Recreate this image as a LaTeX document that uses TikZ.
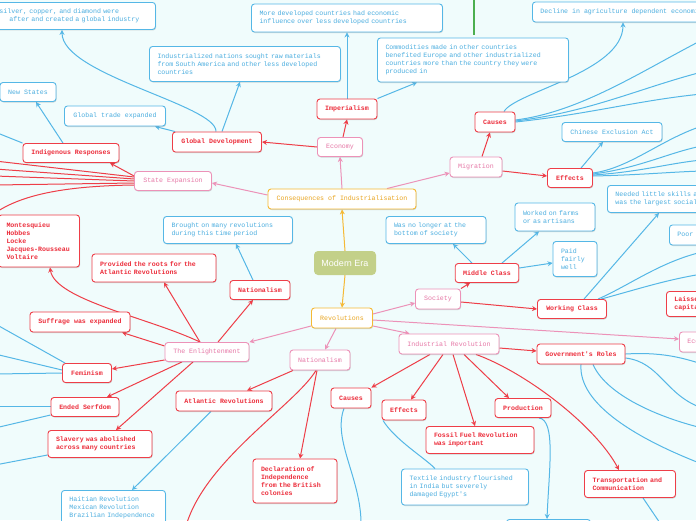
\documentclass[tikz,border=0pt]{standalone}
\usepackage{fontspec}
\newfontfamily\mono{Liberation Mono}
\newfontfamily\msans{Liberation Sans}
\usetikzlibrary{arrows.meta,shadows}
\definecolor{bg}{HTML}{F0FCFC}
\definecolor{redb}{HTML}{EE3E48}
\definecolor{redt}{HTML}{EC2C3A}
\definecolor{pinkb}{HTML}{EC92B8}
\definecolor{pinkt}{HTML}{E677A6}
\definecolor{blueb}{HTML}{55B7E6}
\definecolor{bluet}{HTML}{4AADDF}
\definecolor{orab}{HTML}{F5B935}
\definecolor{orat}{HTML}{E9A521}
\definecolor{meg}{HTML}{C3D089}
\definecolor{grn}{HTML}{4CAF50}
\pgfdeclarelayer{back}
\pgfdeclarelayer{edges}
\pgfsetlayers{back,edges,main}
\begin{document}
\begin{tikzpicture}[x=1pt,y=-1pt,line join=round,
 base/.style={draw, rounded corners=3pt, fill=white, line width=0.9pt,
   font=\mono\fontsize{6.6}{8}\selectfont, inner xsep=8pt, inner ysep=3pt, align=left,
   drop shadow={shadow xshift=0.6pt,shadow yshift=-1pt,opacity=0.22,fill=black!70}},
 rbox/.style={base, draw=redb, text=redt, font=\mono\bfseries\fontsize{6.6}{8}\selectfont},
 pbox/.style={base, draw=pinkb, text=pinkt},
 bbox/.style={base, draw=blueb, text=bluet},
 obox/.style={base, draw=orab, text=orat},
 tip/.style={-{Stealth[length=5pt,width=5pt]}},
 rl/.style={draw=redb, line width=1pt},
 pl/.style={draw=pinkb, line width=1pt},
 bl/.style={draw=blueb, line width=1pt},
 ol/.style={draw=orab, line width=1pt}]
\useasboundingbox (0,0) rectangle (696,520);
\begin{pgfonlayer}{back}
\fill[bg] (0,0) rectangle (696,520);
\end{pgfonlayer}
\clip (0,0) rectangle (696,520);

% ---- nodes ----
\node[fill=meg, rounded corners=4pt, text=white, font=\msans\fontsize{9}{10}\selectfont,
  minimum width=62pt, minimum height=24pt, inner sep=0pt] (me) at (345,263) {Modern Era};
\node[obox, minimum width=148pt, minimum height=20pt] (coi) at (342,199) {Consequences of Industrialisation};
\node[obox, minimum width=61pt, minimum height=20pt] (rev) at (342,318) {Revolutions};

\node[pbox, minimum width=45pt, minimum height=19pt] (eco) at (340,147) {Economy};
\node[pbox, minimum width=52pt, minimum height=20pt] (mig) at (476,167) {Migration};
\node[pbox, minimum width=77pt, minimum height=19pt] (se) at (173,181) {State Expansion};

\node[rbox, minimum width=60pt, minimum height=20pt] (imp) at (347,109) {Imperialism};
\node[rbox, minimum width=89pt, minimum height=20pt] (gd) at (217,142) {Global Development};
\node[rbox, minimum width=40pt, minimum height=20pt] (mcau) at (495,122) {Causes};
\node[rbox, minimum width=45pt, minimum height=19pt] (meff) at (570,178) {Effects};
\node[bbox, minimum width=100pt, minimum height=19pt] (cea) at (612,132) {Chinese Exclusion Act};
\node[bbox, anchor=west, minimum height=20pt] (dec) at (532,12) {Decline in agriculture dependent economies};
\node[bbox, text width=175pt, minimum height=28pt] (mdc) at (347,18) {More developed countries had economic\\influence over less developed countries};
\node[bbox, text width=175pt, minimum height=44pt] (com) at (473,60) {Commodities made in other countries\\benefited Europe and other industrialized\\countries more than the country they were\\produced in};
\node[bbox, text width=175pt, minimum height=35pt] (ind) at (245,64) {Industrialized nations sought raw materials\\from South America and other less developed\\countries};
\node[bbox, minimum width=101pt, minimum height=20pt] (gte) at (115,116) {Global trade expanded};
\node[bbox, anchor=north west, text width=148pt, minimum height=27pt] (sil) at (-9,2) {silver, copper, and diamond were\\\hspace*{10pt}after and created a global industry};
\node[bbox, minimum width=56pt, minimum height=19pt] (ns) at (28,92) {New States};
\node[rbox, minimum width=96pt, minimum height=19pt] (ir) at (71,153) {Indigenous Responses};

\node[rbox, text width=65pt, minimum height=52pt] (mon) at (39,241) {Montesquieu\\Hobbes\\Locke\\Jacques-Rousseau\\Voltaire};
\node[bbox, text width=113pt, minimum height=27pt] (bro) at (228,230) {Brought on many revolutions\\during this time period};
\node[rbox, text width=108pt, minimum height=28pt] (prov) at (154,268) {Provided the roots for the\\Atlantic Revolutions};
\node[rbox, minimum width=60pt, minimum height=19pt] (nat1) at (260,290) {Nationalism};
\node[rbox, minimum width=100pt, minimum height=20pt] (suf) at (80,322) {Suffrage was expanded};
\node[pbox, minimum width=84pt, minimum height=19pt] (enl) at (207,352) {The Enlightenment};
\node[rbox, minimum width=49pt, minimum height=19pt] (fem) at (87,373) {Feminism};
\node[rbox, minimum width=68pt, minimum height=19pt] (ser) at (85,407) {Ended Serfdom};
\node[rbox, text width=88pt, minimum height=27pt] (sla) at (100,444) {Slavery was abolished\\across many countries};
\node[rbox, minimum width=96pt, minimum height=20pt] (atl) at (224,401) {Atlantic Revolutions};
\node[bbox, anchor=north west, text width=88pt, inner ysep=6pt] (hai) at (61,490) {Haitian Revolution\\Mexican Revolution\\Brazilian Independence};
\node[pbox, minimum width=60pt, minimum height=20pt] (nat2) at (320,360) {Nationalism};
\node[rbox, text width=68pt, minimum height=44pt] (decl) at (295,481) {Declaration of\\Independence\\from the British\\colonies};

\node[pbox, minimum width=45pt, minimum height=20pt] (soc) at (438,299) {Society};
\node[pbox, minimum width=100pt, minimum height=20pt] (indr) at (449,344) {Industrial Revolution};
\node[bbox, text width=84pt, minimum height=27pt] (wnl) at (436,230) {Was no longer at the\\bottom of society};
\node[rbox, minimum width=63pt, minimum height=19pt] (mc) at (487,273) {Middle Class};
\node[bbox, text width=64pt, minimum height=28pt] (wof) at (555,217) {Worked on farms\\or as artisans};
\node[bbox, text width=28pt, minimum height=35pt] (paid) at (575,259) {Paid\\fairly\\well};
\node[rbox, minimum width=69pt, minimum height=19pt] (wc) at (572,309) {Working Class};
\node[bbox, anchor=west, text width=150pt, minimum height=27pt] (nls) at (607,199) {Needed little skills and\\was the largest social class};
\node[bbox, anchor=west, minimum height=20pt] (poor) at (669,235) {Poor living conditions};
\node[rbox, anchor=west, text width=80pt, minimum height=25pt] (lai) at (666,304) {Laissez-faire\\capitalism};
\node[pbox, anchor=west, minimum height=20pt] (ecs) at (679,342) {Economic Systems};
\node[rbox, minimum width=88pt, minimum height=20pt] (gov) at (581,354) {Government's Roles};
\node[rbox, minimum width=40pt, minimum height=20pt] (icau) at (351,398) {Causes};
\node[rbox, minimum width=44pt, minimum height=20pt] (ieff) at (404,410) {Effects};
\node[rbox, minimum width=56pt, minimum height=19pt] (prod) at (523,408) {Production};
\node[rbox, text width=92pt, minimum height=27pt] (fos) at (480,440) {Fossil Fuel Revolution\\was important};
\node[bbox, text width=111pt, minimum height=36pt] (tex) at (465,487) {Textile industry flourished\\in India but severely\\damaged Egypt's};
\node[rbox, text width=75pt, minimum height=27pt] (tra) at (630,484) {Transportation and\\Communication};
\node[bbox, anchor=north west, minimum width=84pt, minimum height=20pt] (bot) at (506,519) {};

% ---- free ends ----
\coordinate (g1) at (474,-5); \coordinate (g2) at (474,35);
\coordinate (se1) at (-5,161); \coordinate (se2) at (-5,169); \coordinate (se3) at (-5,176);
\coordinate (se4) at (-5,185); \coordinate (se5) at (-5,213);
\coordinate (ir1) at (-5,132);
\coordinate (fe1) at (-10,321); \coordinate (fe2) at (-5,354); \coordinate (fe3) at (-5,374);
\coordinate (sr1) at (-5,406); \coordinate (sr2) at (-5,428);
\coordinate (sl1) at (-5,465);
\coordinate (n2x) at (186,526);
\coordinate (icx) at (361,526);
\coordinate (trx) at (662,526);
\coordinate (mc1) at (702,40); \coordinate (mc2) at (702,72); \coordinate (mc3) at (702,94);
\coordinate (me1) at (702,126); \coordinate (me2) at (702,146); \coordinate (me3) at (702,160); \coordinate (me4) at (702,171);
\coordinate (wc1) at (702,252); \coordinate (wc2) at (702,274);
\coordinate (gv1) at (702,364); \coordinate (gv2) at (702,408); \coordinate (gv3) at (702,428); \coordinate (gv4) at (702,464);

% ---- connectors ----
\begin{pgfonlayer}{edges}
\draw[grn, line width=1.2pt] (g1) -- (g2);
% orange
\draw[ol,tip] (me.north) -- (coi.south);
\draw[ol,tip] (me.south) -- (rev.north);
% pink
\draw[pl,tip] (coi.north) -- (eco.south);
\draw[pl,tip] ([xshift=45pt]coi.north) -- ([yshift=-6pt]mig.west);
\draw[pl,tip] ([yshift=4pt]coi.west) -- ([yshift=-2pt]se.east);
\draw[pl,tip] ([yshift=4pt]rev.east) -- ([yshift=-4pt]soc.west);
\draw[pl,tip] ([yshift=-8pt]rev.east) -- ([xshift=11pt]indr.north west);
\draw[pl,tip] ([yshift=-2pt]rev.east) -- ([yshift=3pt]ecs.west);
\draw[pl,tip] ([yshift=-8pt]rev.west) -- (enl.north east);
\draw[pl,tip] ([xshift=-6pt]rev.south) -- ([xshift=5pt]nat2.north);
% economy
\draw[rl,tip] ([xshift=3pt]eco.north) -- (imp.south);
\draw[rl,tip] (eco.west) -- (gd.east);
\draw[bl,tip] (imp.north) -- (mdc.south);
\draw[bl,tip] (imp.north east) -- ([xshift=-56pt]com.south);
\draw[bl,tip] ([xshift=5pt]gd.north) -- ([xshift=-5pt]ind.south);
\draw[bl,tip] ([xshift=3pt]gd.north west) -- ([xshift=40pt]gte.south);
\draw[bl,tip] ([xshift=-1pt]gd.north) .. controls (217,105) and (62,75) .. ([xshift=71pt]sil.south west);
% migration
\draw[rl,tip] ([xshift=6pt]mig.north) -- ([xshift=-5pt]mcau.south);
\draw[rl,tip] ([yshift=-4pt]mig.east) -- ([yshift=2pt]meff.west);
\draw[bl,tip] ([xshift=9pt]mcau.north) .. controls (515,92) and (623,72) .. ([xshift=91pt]dec.south west);
\draw[bl] ([yshift=2pt]mcau.east) .. controls (580,112) and (640,72) .. (mc1);
\draw[bl] ([yshift=1pt]mcau.east) .. controls (590,112) and (640,88) .. (mc2);
\draw[bl] (mcau.east) .. controls (590,114) and (640,100) .. (mc3);
\draw[bl,tip] ([xshift=11pt]meff.north) -- ([xshift=-9pt]cea.south);
\draw[bl] ([yshift=5pt]meff.east) .. controls (630,168) and (660,140) .. (me1);
\draw[bl] ([yshift=4pt]meff.east) .. controls (640,168) and (670,152) .. (me2);
\draw[bl] ([yshift=3pt]meff.east) .. controls (640,172) and (670,163) .. (me3);
\draw[bl] ([yshift=2pt]meff.east) .. controls (640,175) and (670,172) .. (me4);
% state expansion
\draw[rl,tip] ([yshift=5pt]se.west) -- ([xshift=39pt]ir.south);
\draw[rl] ([yshift=4pt]se.west) -- (se1);
\draw[rl] ([yshift=2pt]se.west) -- (se2);
\draw[rl] (se.west) -- (se3);
\draw[rl] ([yshift=-2pt]se.west) -- (se4);
\draw[rl] ([yshift=-4pt]se.west) .. controls (60,186) and (20,196) .. (se5);
\draw[bl,tip] ([xshift=-8pt]ir.north) -- ([xshift=8pt]ns.south);
\draw[bl] (ir.north west) -- (ir1);
% society
\draw[rl,tip] (soc.north east) -- ([xshift=-17pt]mc.south);
\draw[rl,tip] ([yshift=-3pt]soc.east) -- (wc.west);
\draw[bl,tip] ([xshift=-15pt]mc.north) -- ([xshift=17pt]wnl.south);
\draw[bl,tip] ([xshift=15pt]mc.north) -- ([xshift=-16pt]wof.south);
\draw[bl,tip] ([yshift=5pt]mc.east) -- ([yshift=-4pt]paid.west);
\draw[bl,tip] ([xshift=12pt]wc.north) -- ([xshift=52pt]nls.south west);
\draw[bl] ([xshift=26pt]wc.north) .. controls (630,285) and (660,262) .. (wc1);
\draw[bl] ([xshift=29pt]wc.north) .. controls (635,290) and (665,280) .. (wc2);
% industrial revolution
\draw[rl,tip] ([xshift=-19pt]indr.south) -- (icau.north east);
\draw[rl,tip] ([xshift=-6pt]indr.south) -- ([xshift=7pt]ieff.north);
\draw[rl,tip] ([xshift=4pt]indr.south) -- ([xshift=-5pt]fos.north);
\draw[rl,tip] ([xshift=15pt]indr.south) -- ([xshift=-14pt]prod.north);
\draw[rl,tip] ([xshift=27pt]indr.south) .. controls (525,372) and (595,425) .. ([xshift=-11pt]tra.north);
\draw[rl,tip] ([yshift=-4pt]indr.east) -- ([yshift=3pt]gov.west);
\draw[bl] (gov.east) .. controls (660,352) and (680,357) .. (gv1);
\draw[bl] ([yshift=-4pt]gov.east) .. controls (660,362) and (665,395) .. (gv2);
\draw[bl] ([xshift=12pt]gov.south) .. controls (605,392) and (650,415) .. (gv3);
\draw[bl] (gov.south) .. controls (578,405) and (640,440) .. (gv4);
\draw[bl] ([xshift=-7pt]icau.south) .. controls (332,440) and (362,480) .. (icx);
\draw[bl] ([xshift=-21pt]ieff.south) .. controls (395,440) and (425,458) .. ([xshift=-30pt]tex.north);
\draw[bl,tip] ([xshift=16pt]prod.south) .. controls (556,420) and (549,470) .. ([xshift=41pt]bot.north west);
\draw[bl] ([xshift=13pt]tra.south) -- (trx);
% enlightenment
\draw[rl,tip] ([xshift=-7pt]enl.north) .. controls (150,318) and (55,300) .. ([xshift=11pt]mon.south);
\draw[rl,tip] ([xshift=-7pt]enl.north) -- ([xshift=10pt]prov.south);
\draw[rl,tip] ([xshift=11pt]enl.north) -- ([xshift=-7pt]nat1.south);
\draw[bl,tip] ([xshift=-7pt]nat1.north) -- ([xshift=8pt]bro.south);
\draw[rl,tip] ([yshift=6pt]enl.west) -- ([xshift=42pt]suf.south);
\draw[rl,tip] ([yshift=-8pt]enl.west) -- ([yshift=4pt]fem.east);
\draw[rl,tip] ([xshift=-25pt]enl.south) -- ([xshift=22pt]ser.north);
\draw[rl,tip] ([xshift=-14pt]enl.south) -- ([xshift=16pt]sla.north);
\draw[bl] ([xshift=3pt]fem.north west) -- (fe1);
\draw[bl] ([yshift=3pt]fem.west) -- (fe2);
\draw[bl] (fem.west) -- (fe3);
\draw[bl] ([yshift=1pt]ser.west) -- (sr1);
\draw[bl] ([yshift=-8pt]ser.west) -- (sr2);
\draw[bl] ([yshift=-11pt]sla.west) -- (sl1);
% nationalism
\draw[rl,tip] ([xshift=-27pt]nat2.south) -- ([xshift=23pt]atl.north);
\draw[rl,tip] ([xshift=-3pt]nat2.south) -- ([xshift=5pt]decl.north);
\draw[rl] ([xshift=-4pt]nat2.south) .. controls (295,405) and (205,460) .. (n2x);
\draw[bl,tip] ([xshift=-13pt]atl.south) -- ([xshift=71pt]hai.north west);
\end{pgfonlayer}
\end{tikzpicture}
\end{document}
